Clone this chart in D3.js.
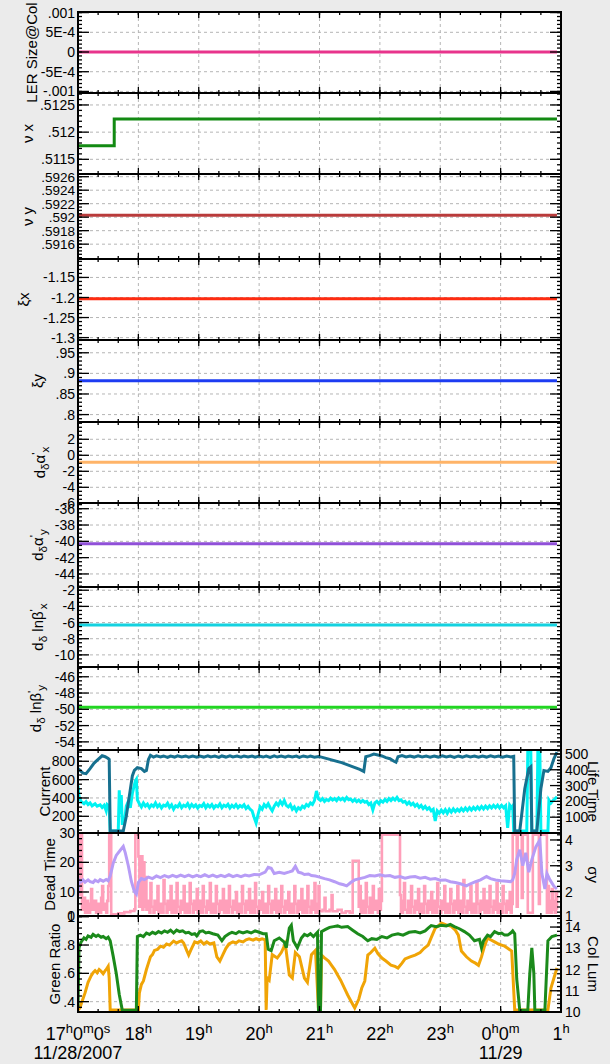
<!DOCTYPE html>
<html><head><meta charset="utf-8">
<script src="https://cdn.jsdelivr.net/npm/d3@7"></script>
<style>
body{margin:0;background:#ebebeb;}
svg{display:block;}
text{font-family:"Liberation Sans",Arial,Helvetica,sans-serif;fill:#000;}
</style>
</head><body>
<svg id="c" width="610" height="1064"></svg>
<script>
// ---------------- DATA (minutes after 17:00 on 11/28/2007, value) ----------------
const lerDomain=[-0.00104,0.001015], lerTicks=[-0.001,-0.0005,0,0.0005,0.001], lerTickLabels=["-.001","-5E-4","0","5E-4",".001"];
const lerData=[[0,0],[476,0]];
const vxDomain=[0.51123,0.51272], vxTicks=[0.5115,0.512,0.5125], vxTickLabels=[".5115",".512",".5125"];
const vxData=[[0,0.51175],[36,0.51175],[36,0.51224],[476,0.51224]];
const vyDomain=[0.59138,0.59264], vyTicks=[0.5916,0.5918,0.592,0.5922,0.5924,0.5926], vyTickLabels=[".5916",".5918",".592",".5922",".5924",".5926"];
const vyData=[[0,0.59203],[476,0.59203]];
const xixDomain=[-1.306,-1.104], xixTicks=[-1.3,-1.25,-1.2,-1.15], xixTickLabels=["-1.3","-1.25","-1.2","-1.15"];
const xixData=[[0,-1.203],[476,-1.203]];
const xiyDomain=[0.782,0.981], xiyTicks=[0.8,0.85,0.9,0.95], xiyTickLabels=[".8",".85",".9",".95"];
const xiyData=[[0,0.882],[476,0.882]];
const daxDomain=[-5.96,4.16], daxTicks=[-6,-4,-2,0,2], daxTickLabels=["-6","-4","-2","0","2"];
const daxData=[[0,-0.875],[476,-0.875]];
const dayDomain=[-45.6,-35.3], dayTicks=[-44,-42,-40,-38,-36], dayTickLabels=["-44","-42","-40","-38","-36"];
const dayData=[[0,-40.3],[476,-40.3]];
const dbxDomain=[-11.5,-1.6], dbxTicks=[-10,-8,-6,-4,-2], dbxTickLabels=["-10","-8","-6","-4","-2"];
const dbxData=[[0,-6.3],[476,-6.3]];
const dbyDomain=[-55,-44.8], dbyTicks=[-54,-52,-50,-48,-46], dbyTickLabels=["-54","-52","-50","-48","-46"];
const dbyData=[[0,-49.75],[476,-49.75]];

const curDomain=[18,923], curTicks=[200,400,600,800], curTickLabels=["200","400","600","800"];
const lifeDomain=[0,525], lifeTicks=[100,200,300,400,500], lifeTickLabels=["100","200","300","400","500"];
const currentData=[[0,720],[3,690],[5,670],[8,665],[12,720],[16,780],[20,820],[24,860],[27,850],[30,830],[31,820],[32,40],[45,40],[48,200],[51,420],[54,640],[56,700],[59,730],[63,720],[66,690],[68,700],[70,820],[72,865],[75,845],[78,860],[82,848],[85,858],[89,842],[92,856],[96,846],[99,860],[103,848],[107,858],[110,845],[114,856],[118,844],[121,858],[125,846],[129,860],[132,848],[136,856],[140,842],[143,858],[147,846],[151,860],[154,848],[158,856],[162,844],[165,858],[169,846],[173,856],[176,844],[180,858],[184,846],[187,856],[191,842],[195,858],[198,846],[202,856],[206,844],[209,858],[213,846],[217,856],[220,842],[224,858],[228,846],[231,856],[235,844],[239,852],[242,845],[252,815],[262,785],[272,745],[280,712],[284,690],[286,850],[290,862],[294,878],[298,868],[302,858],[306,840],[310,828],[314,800],[316,790],[318,850],[322,862],[326,848],[330,858],[334,846],[338,860],[342,848],[346,856],[350,844],[354,858],[358,846],[362,860],[366,848],[370,856],[374,842],[378,858],[382,846],[386,860],[390,848],[394,856],[398,844],[402,858],[406,846],[410,860],[414,848],[418,856],[422,844],[426,858],[430,848],[433,855],[434,40],[439,40],[444,500],[448,720],[450,740],[451,40],[456,40],[460,500],[463,700],[467,690],[470,730],[473,830],[476,900]];
const lifeData=[[0,300],[1,230],[3,200],[6,185],[8,198],[10,180],[12,190],[14,172],[17,185],[19,170],[22,178],[24,162],[26,175],[28,140],[29,180],[31,170],[32,12],[40,12],[41,270],[42,120],[43,240],[44,60],[46,60],[48,170],[50,200],[52,160],[54,250],[57,330],[58,340],[59,210],[61,185],[63,165],[65,190],[67,170],[69,182],[71,160],[73,178],[75,168],[77,190],[79,165],[81,180],[83,158],[85,176],[87,170],[89,188],[91,162],[93,178],[95,150],[97,172],[99,165],[101,185],[103,160],[105,176],[107,168],[109,186],[111,160],[113,180],[115,166],[117,178],[119,158],[121,175],[123,168],[125,186],[127,160],[129,178],[131,165],[133,180],[135,158],[137,174],[139,166],[141,184],[143,160],[145,176],[147,168],[149,182],[151,158],[153,175],[155,163],[157,180],[159,160],[161,174],[163,165],[165,178],[167,155],[169,168],[171,150],[173,140],[175,100],[177,63],[179,120],[181,165],[183,150],[185,180],[187,165],[189,185],[191,160],[193,140],[195,170],[197,190],[199,175],[201,200],[203,180],[205,205],[207,175],[209,165],[211,180],[213,150],[215,165],[217,140],[219,160],[221,150],[223,170],[225,160],[227,180],[229,170],[231,190],[233,180],[235,205],[237,266],[239,215],[241,205],[243,218],[245,200],[247,212],[249,205],[251,220],[253,208],[255,218],[257,205],[259,222],[261,210],[263,220],[265,205],[267,225],[269,210],[271,215],[273,200],[275,212],[277,198],[279,208],[281,195],[283,206],[285,195],[287,200],[289,180],[291,190],[293,146],[295,190],[297,200],[299,185],[301,205],[303,195],[305,212],[307,200],[309,218],[311,205],[313,220],[315,208],[317,225],[319,205],[321,210],[323,195],[325,200],[327,182],[329,195],[331,178],[333,188],[335,170],[337,182],[339,162],[341,175],[343,155],[345,168],[347,150],[349,160],[351,140],[353,150],[355,76],[357,140],[359,125],[361,145],[363,128],[365,148],[367,125],[369,150],[371,132],[373,152],[375,135],[377,150],[379,138],[381,155],[383,140],[385,158],[387,142],[389,160],[391,145],[393,162],[395,148],[397,165],[399,150],[401,168],[403,152],[405,170],[407,155],[409,172],[411,158],[413,175],[415,160],[417,176],[419,158],[421,175],[423,160],[425,172],[427,32],[429,177],[431,160],[432,170],[433,12],[446,12],[447,515],[450,515],[451,12],[456,12],[457,515],[459,515],[460,12],[467,12],[468,209],[470,190],[472,205],[474,215],[476,230]];

const deadDomain=[1.9,29.9], deadTicks=[0,10,20,30], deadTickLabels=["0","10","20","30"];
const sigmaDomain=[1.05,4.27], sigmaTicks=[1,2,3,4], sigmaTickLabels=["1","2","3","4"];
const deadData=[[0,29.3],[1,9],[2,29.3],[4,4],[5,8],[7,3],[9,7],[10,3],[12,6],[13,11],[14,4],[16,7],[18,3],[20,6],[21,3],[23,8],[24,12],[25,4],[27,6],[28,3],[29,7],[30,12],[31,29.3],[33,2.5],[40,2.8],[46,3.2],[52,3.6],[56,4.2],[57,29.3],[60,22],[61,5],[62,22],[64,4],[65,20],[66,5],[67,15],
[68,4],[69,7],[71,3],[72,13],[73,5],[75,3],[76,7],[78,4],[79,12],[80,3],[82,6],[84,3],[85,14],[86,6],[88,3],[89,7],[91,4],[92,12],[93,3],[95,7],[97,3],[98,13],[99,5],[101,3],[102,7],[104,4],[105,12],[106,3],[108,6],[110,3],[111,13],[112,6],[114,3],[115,7],[117,4],[118,11],[119,3],[121,7],[123,3],[124,12],[125,5],[127,3],[128,7],[130,4],[131,13],[132,3],[134,6],[136,3],[137,12],[138,6],[140,3],[141,7],[143,4],[144,11],[145,3],[147,7],[149,3],[150,12],[151,5],[153,3],[154,7],[156,4],[157,10],[158,3],[160,6],[162,3],[163,12],[164,6],[166,3],[167,7],[169,4],[170,11],[171,3],[173,7],[175,3],[176,13],[177,5],[179,3],[180,7],[182,4],[183,10],[184,3],[186,6],[188,3],[189,12],[190,6],[192,3],[193,7],[195,4],[196,11],[197,3],[199,7],[201,3],[202,12],[203,5],[205,3],[206,7],[208,4],[209,10],[210,3],[212,6],[214,3],[215,12],[216,6],[218,3],[219,7],[221,4],[222,11],[223,3],[225,7],[227,3],[228,12],[229,5],[231,3],[232,7],[234,4],[235,13],[236,3],[238,6],[239,12],
[240,3.5],[243,4],[245,8],[246,3.5],[250,4],[252,9],[253,3.5],[258,4],[262,3],[266,3.5],[270,3],[273,20.5],[279,5],[280,12],[281,3],[283,7],[285,3],[286,13],[287,5],[289,3],[290,8],[292,3],[293,12],[294,4],[296,7],[298,3],[299,11],[300,4],[301,7],[302,29.3],[320,9],
[321,3],[323,7],[324,13],[325,4],[327,3],[328,7],[330,3],[331,12],[332,5],[334,3],[335,7],[337,4],[338,11],[339,3],[341,6],[343,3],[344,12],[345,6],[347,3],[348,7],[350,4],[351,10],[352,3],[354,7],[356,3],[357,13],[358,5],[360,3],[361,7],[363,4],[364,12],[365,3],[367,6],[369,3],[370,11],[371,6],[373,3],[374,7],[376,4],[377,12],[378,3],[380,7],[382,3],[383,14],[384,5],[386,3],[387,7],[389,4],[390,12],[391,3],[393,6],[395,3],[396,13],[397,6],[399,3],[400,7],[402,4],[403,11],[404,3],[406,7],[408,3],[409,12],[410,5],[412,3],[413,7],[415,4],[416,13],[417,3],[419,6],[421,3],[422,12],[423,6],[425,3],[426,7],[428,4],[429,10],[430,3],[431,6],
[432,29.3],[436,5],[437,29.3],[441,8],[442,29.3],[447,3],[452,29.3],[458,6],[459,29.3],[466,3],[467,12],[468,3],[469,7],[470,3],[471,11],[472,4],[473,7],[474,3],[475,10],[476,4]];
const sigmaData=[[0,1.9],[1,2.45],[3,2.38],[5,2.45],[7,2.36],[10,2.45],[12,2.38],[15,2.35],[17,2.44],[20,2.38],[22,2.46],[25,2.4],[28,2.47],[30,2.42],[32,2.6],[35,3.1],[38,3.4],[42,3.6],[45,3.75],[47,3.5],[50,3.0],[53,2.4],[56,2.0],[58,1.9],[60,2.35],[63,2.5],[66,2.46],[70,2.56],[74,2.5],[78,2.6],[82,2.54],[86,2.62],[90,2.56],[94,2.63],[98,2.57],[102,2.64],[106,2.58],[110,2.64],[114,2.57],[118,2.63],[122,2.58],[126,2.65],[130,2.58],[134,2.64],[138,2.57],[142,2.63],[146,2.58],[150,2.65],[154,2.58],[158,2.63],[162,2.58],[166,2.64],[170,2.6],[175,2.66],[180,2.65],[186,2.75],[189,2.94],[192,2.9],[195,2.7],[200,2.75],[205,2.7],[210,2.76],[213,2.8],[216,2.98],[219,2.75],[222,2.72],[225,2.66],[229,2.68],[232,2.62],[236,2.6],[240,2.56],[245,2.5],[250,2.45],[255,2.38],[260,2.3],[264,2.26],[267,2.22],[271,2.35],[275,2.45],[280,2.5],[285,2.55],[290,2.62],[295,2.6],[300,2.65],[305,2.6],[310,2.62],[315,2.55],[320,2.58],[325,2.52],[330,2.56],[335,2.58],[340,2.52],[345,2.55],[350,2.48],[355,2.5],[360,2.44],[365,2.45],[370,2.38],[375,2.35],[380,2.3],[386,2.22],[390,2.3],[395,2.38],[400,2.45],[406,2.58],[410,2.5],[415,2.45],[420,2.42],[426,2.4],[430,2.38],[432,2.45],[434,2.7],[436,3.24],[439,3.62],[442,3.0],[445,3.5],[448,2.75],[451,3.24],[455,3.73],[459,4.0],[461,2.7],[464,2.1],[466,2.7],[469,2.45],[473,2.2],[476,2.1]];

const greenDomain=[0.327,1.005], greenTicks=[0.4,0.6,0.8,1], greenTickLabels=[".4",".6",".8","1"];
const lumDomain=[10,14.52], lumTicks=[10,11,12,13,14], lumTickLabels=["10","11","12","13","14"];
const greenData=[[0,0.36],[1,0.78],[3,0.82],[6,0.85],[8,0.84],[10,0.865],[13,0.855],[15,0.875],[18,0.86],[20,0.87],[23,0.855],[25,0.86],[28,0.845],[30,0.855],[32,0.83],[35,0.72],[38,0.6],[41,0.45],[44,0.34],[58,0.34],[59,0.86],[62,0.87],[65,0.86],[68,0.885],[71,0.875],[74,0.89],[77,0.88],[80,0.895],[83,0.885],[86,0.9],[89,0.89],[92,0.905],[95,0.885],[98,0.905],[101,0.895],[104,0.9],[107,0.885],[110,0.89],[113,0.875],[116,0.88],[118,0.865],[121,0.895],[124,0.9],[127,0.885],[130,0.89],[134,0.88],[139,0.87],[143,0.83],[146,0.86],[150,0.88],[153,0.89],[157,0.88],[160,0.895],[164,0.885],[168,0.895],[172,0.885],[176,0.9],[180,0.89],[184,0.88],[187,0.88],[189,0.77],[192,0.76],[195,0.83],[200,0.85],[205,0.82],[207,0.78],[210,0.92],[212,0.94],[214,0.83],[218,0.78],[222,0.85],[225,0.875],[228,0.865],[231,0.88],[234,0.86],[238,0.89],[239,0.34],[241,0.34],[242,0.895],[246,0.91],[250,0.925],[254,0.93],[258,0.935],[262,0.925],[268,0.93],[273,0.905],[278,0.88],[283,0.86],[288,0.83],[292,0.845],[297,0.84],[302,0.86],[307,0.85],[312,0.87],[318,0.88],[323,0.87],[329,0.89],[335,0.895],[340,0.885],[345,0.9],[348,0.92],[351,0.937],[356,0.93],[361,0.94],[366,0.935],[370,0.945],[374,0.93],[379,0.915],[384,0.895],[389,0.87],[394,0.83],[399,0.84],[401,0.78],[403,0.83],[407,0.87],[410,0.86],[414,0.895],[418,0.88],[421,0.885],[424,0.87],[427,0.87],[430,0.885],[432,0.9],[434,0.88],[436,0.56],[439,0.34],[447,0.34],[449,0.6],[451,0.78],[453,0.6],[454,0.34],[464,0.34],[467,0.83],[471,0.86],[476,0.87]];
const lumData=[[0,10.1],[2,10.2],[4,10.5],[7,10.9],[10,11.4],[13,11.7],[15,11.85],[17,11.95],[19,11.85],[21,12.0],[23,11.92],[25,11.8],[27,11.95],[28,12.0],[30,12.15],[31,11.6],[32,10.1],[60,10.1],[61,10.9],[63,11.3],[65,11.46],[68,12.0],[70,12.3],[72,12.6],[74,12.7],[76,12.9],[79,12.95],[82,13.1],[85,13.05],[88,13.2],[91,13.15],[95,13.34],[98,13.25],[100,13.3],[103,13.35],[105,13.25],[108,12.9],[110,12.68],[112,12.9],[116,13.3],[119,13.25],[122,13.35],[125,13.2],[128,13.3],[131,13.2],[135,13.25],[138,12.6],[141,12.4],[144,12.7],[147,13.0],[150,13.2],[154,13.3],[157,13.25],[160,13.35],[164,13.3],[167,13.4],[170,13.45],[174,13.38],[177,13.45],[180,13.4],[183,13.45],[186,13.4],[187,10.1],[188,11.6],[190,11.5],[193,12.7],[198,12.54],[202,12.8],[206,13.2],[210,11.74],[213,11.6],[216,12.8],[220,12.6],[225,11.6],[228,11.4],[232,12.7],[236,12.9],[239,10.1],[241,10.1],[242,12.68],[245,12.55],[249,12.4],[252,12.2],[255,12.0],[258,11.74],[261,11.5],[265,11.1],[268,10.8],[272,10.45],[275,10.19],[279,10.6],[282,11.13],[285,11.46],[288,12.68],[291,12.8],[295,13.0],[298,12.75],[302,12.54],[306,12.4],[311,12.21],[315,12.15],[318,12.07],[322,12.3],[325,12.5],[330,12.6],[335,12.68],[340,12.8],[344,13.0],[348,13.15],[351,13.5],[355,13.95],[358,14.05],[361,14.19],[366,14.1],[371,14.03],[375,13.85],[378,13.62],[381,12.87],[386,12.6],[391,12.4],[395,12.3],[398,12.2],[401,12.6],[404,13.1],[407,13.48],[410,13.4],[414,13.3],[418,13.2],[421,13.15],[424,13.1],[427,13.0],[431,12.87],[434,10.1],[467,10.1],[470,11.13],[473,11.6],[476,12.07]];

const hourLabels=["17h0m0s","18h","19h","20h","21h","22h","23h","0h0m","1h"];
const dateLabels=[["11/28/2007",0],["11/29",7]];

// ---------------- CHART ----------------
const T0=new Date(2007,10,28,17,0,0), T1=new Date(2007,10,29,1,0,0);
const tm=m=>new Date(T0.getTime()+m*60000);
const xL=78, xR=561;
const x=d3.scaleTime().domain([T0,T1]).range([xL,xR]);
const hours=d3.timeHour.range(T0,new Date(T1.getTime()+1000));
const minorX=d3.timeMinute.every(20).range(T0,new Date(T1.getTime()+1000));

const svg=d3.select('#c');
svg.append('rect').attr('width',610).attr('height',1064).attr('fill','#ebebeb');

const edges=[12,93,174,259,340,422,503,587,667,750,833,916,1012];
const S=(t)=>[[t,'n']];
const panels=[
 {dom:lerDomain,ticks:lerTicks,labels:lerTickLabels,minor:1e-4,title:S("LER Size@Col"),tx:37,series:[[lerData,"#e8348c",3]]},
 {dom:vxDomain,ticks:vxTicks,labels:vxTickLabels,minor:1e-4,title:[["ν",'n'],[" x",'n']],tx:33,series:[[vxData,"#138a13",3]]},
 {dom:vyDomain,ticks:vyTicks,labels:vyTickLabels,minor:5e-5,title:[["ν",'n'],[" y",'n']],tx:33,series:[[vyData,"#b93b3b",3]],fs:13.5},
 {dom:xixDomain,ticks:xixTicks,labels:xixTickLabels,minor:0.01,title:S("ξx"),tx:29,series:[[xixData,"#ff2b10",3]]},
 {dom:xiyDomain,ticks:xiyTicks,labels:xiyTickLabels,minor:0.01,title:S("ξy"),tx:43,series:[[xiyData,"#1d3cf2",3]]},
 {dom:daxDomain,ticks:daxTicks,labels:daxTickLabels,minor:0.5,title:[["d",'n'],["δ",'sub'],["α",'n'],["'",'sup'],["x",'sub']],tx:45,series:[[daxData,"#ffb468",3]]},
 {dom:dayDomain,ticks:dayTicks,labels:dayTickLabels,minor:0.5,title:[["d",'n'],["δ",'sub'],["α",'n'],["'",'sup'],["y",'sub']],tx:43,series:[[dayData,"#9050d8",3]]},
 {dom:dbxDomain,ticks:dbxTicks,labels:dbxTickLabels,minor:0.5,title:[["d",'n'],["δ",'sub'],[" lnβ",'n'],["'",'sup'],["x",'sub']],tx:43,series:[[dbxData,"#14d2e0",3]]},
 {dom:dbyDomain,ticks:dbyTicks,labels:dbyTickLabels,minor:0.5,title:[["d",'n'],["δ",'sub'],[" lnβ",'n'],["'",'sup'],["y",'sub']],tx:41,series:[[dbyData,"#22d622",3]]},
 {dom:curDomain,ticks:curTicks,labels:curTickLabels,minor:50,title:S("Current"),tx:50,
  right:{dom:lifeDomain,ticks:lifeTicks,labels:lifeTickLabels,minor:20,title:"Life Time"},
  series:[[lifeData,"#00f2f2",3,'r'],[currentData,"#17708f",3]]},
 {dom:deadDomain,ticks:deadTicks,labels:deadTickLabels,minor:2,title:S("Dead Time"),tx:55,
  right:{dom:sigmaDomain,ticks:sigmaTicks,labels:sigmaTickLabels,minor:0.2,title:"σy"},
  series:[[deadData,"#ff9fba",2.6,'l','step'],[sigmaData,"#b79cf6",3,'r']]},
 {dom:greenDomain,ticks:greenTicks,labels:greenTickLabels,minor:0.04,title:S("Green Ratio"),tx:60,
  right:{dom:lumDomain,ticks:lumTicks,labels:lumTickLabels,minor:0.2,title:"Col Lum"},
  series:[[lumData,"#f0a406",3,'r'],[greenData,"#1b8a1b",3,'l']]}
];

function minorVals(dom,step){const o=[];const s=Math.ceil(dom[0]/step-1e-6);for(let k=s;k*step<=dom[1]+step*1e-6;k++)o.push(k*step);return o;}

function title(g,xb,yc,parts,rot,size){
  const t=g.append('text').attr('transform',`translate(${xb},${yc}) rotate(${rot})`).attr('text-anchor','middle').attr('font-size',size);
  let cur=0;
  parts.forEach(([s,k])=>{
    const target=k==='sub'?4:k==='sup'?-5:0;
    const ts=t.append('tspan').text(s).attr('dy',target-cur);
    if(k!=='n')ts.attr('font-size',size*0.78);
    cur=target;
  });
}

panels.forEach((p,i)=>{
  const top=edges[i], bot=edges[i+1];
  const g=svg.append('g');
  const y=d3.scaleLinear().domain(p.dom).range([bot,top]);
  const yr=p.right?d3.scaleLinear().domain(p.right.dom).range([bot,top]):null;
  g.append('rect').attr('x',xL).attr('y',top).attr('width',xR-xL).attr('height',bot-top).attr('fill','#fff');
  // grid
  p.ticks.forEach(v=>{const yy=y(v); if(yy>top+1&&yy<bot-1) g.append('line').attr('x1',xL).attr('x2',xR).attr('y1',yy).attr('y2',yy).attr('stroke','#b5b5b5').attr('stroke-width',1).attr('stroke-dasharray','3,3');});
  hours.slice(1,-1).forEach(h=>{g.append('line').attr('x1',x(h)).attr('x2',x(h)).attr('y1',top).attr('y2',bot).attr('stroke','#b5b5b5').attr('stroke-width',1).attr('stroke-dasharray','3,3');});
  // series
  const cid='clip'+i;
  svg.append('clipPath').attr('id',cid).append('rect').attr('x',xL).attr('y',top+1).attr('width',xR-xL).attr('height',bot-top-2);
  p.series.forEach(([data,col,w,side,curve])=>{
    const ys=side==='r'?yr:y;
    const line=d3.line().x(d=>x(tm(d[0]))).y(d=>ys(d[1])).curve(curve==='step'?d3.curveStepAfter:d3.curveLinear);
    g.append('path').attr('d',line(data)).attr('fill','none').attr('stroke',col).attr('stroke-width',w).attr('clip-path',`url(#${cid})`);
  });
  // y ticks
  const tk=(x1,x2,yy)=>g.append('line').attr('x1',x1).attr('x2',x2).attr('y1',yy).attr('y2',yy).attr('stroke','#000').attr('stroke-width',1.3);
  const inR=(yy)=>yy>=top-0.5&&yy<=bot+0.5;
  minorVals(p.dom,p.minor).forEach(v=>{const yy=y(v); if(inR(yy)){tk(xL,xL+4,yy); if(!p.right) tk(xR-4,xR,yy);}});
  p.ticks.forEach(v=>{const yy=y(v); if(inR(yy)){tk(xL,xL+11,yy); if(!p.right) tk(xR-11,xR,yy);}});
  if(p.right){
    minorVals(p.right.dom,p.right.minor).forEach(v=>{const yy=yr(v); if(inR(yy)) tk(xR-4,xR,yy);});
    p.right.ticks.forEach(v=>{const yy=yr(v); if(inR(yy)) tk(xR-11,xR,yy);});
  }
  // x ticks
  const vt=(xx,y1,y2)=>g.append('line').attr('x1',xx).attr('x2',xx).attr('y1',y1).attr('y2',y2).attr('stroke','#000').attr('stroke-width',1.3);
  minorX.forEach(t=>{const xx=x(t); vt(xx,top,top+3); vt(xx,bot-3,bot);});
  hours.forEach(t=>{const xx=x(t); vt(xx,top,top+6); vt(xx,bot-6,bot);});
  // tick labels
  const fs=p.fs||14;
  p.ticks.forEach((v,k)=>{let yy=y(v); if(yy<top-8||yy>bot+8) return; yy=Math.max(top,Math.min(bot,yy));
    g.append('text').attr('x',75).attr('y',yy).attr('dy','0.36em').attr('text-anchor','end').attr('font-size',fs).text(p.labels[k]);});
  if(p.right){
    p.right.ticks.forEach((v,k)=>{let yy=yr(v); if(yy<top-8||yy>bot+8) return; yy=Math.max(top,Math.min(bot,yy));
      g.append('text').attr('x',565).attr('y',yy).attr('dy','0.36em').attr('text-anchor','start').attr('font-size',14).text(p.right.labels[k]);});
  }
  title(g,p.tx,(top+bot)/2,p.title,-90,15);
  if(p.right) title(g,588,(top+bot)/2,[[p.right.title,'n']],90,15);
});
// frame borders
for(let i=0;i<panels.length;i++){
  svg.append('rect').attr('x',xL).attr('y',edges[i]).attr('width',xR-xL).attr('height',edges[i+1]-edges[i]).attr('fill','none').attr('stroke','#000').attr('stroke-width',2);
}
// x-axis labels
hours.forEach((h,k)=>{
  const t=svg.append('text').attr('x',x(h)).attr('y',1040).attr('text-anchor','middle').attr('font-size',18);
  const runs=hourLabels[k].match(/\d+|[a-z]+/g);
  let cur=0;
  runs.forEach(r=>{const sup=/[a-z]/.test(r); const target=sup?-7:0; const ts=t.append('tspan').text(r).attr('dy',target-cur); if(sup) ts.attr('font-size',13); cur=target;});
});
dateLabels.forEach(([s,k])=>{
  svg.append('text').attr('x',x(hours[k])).attr('y',1059).attr('text-anchor','middle').attr('font-size',18).text(s);
});
</script>
</body></html>
